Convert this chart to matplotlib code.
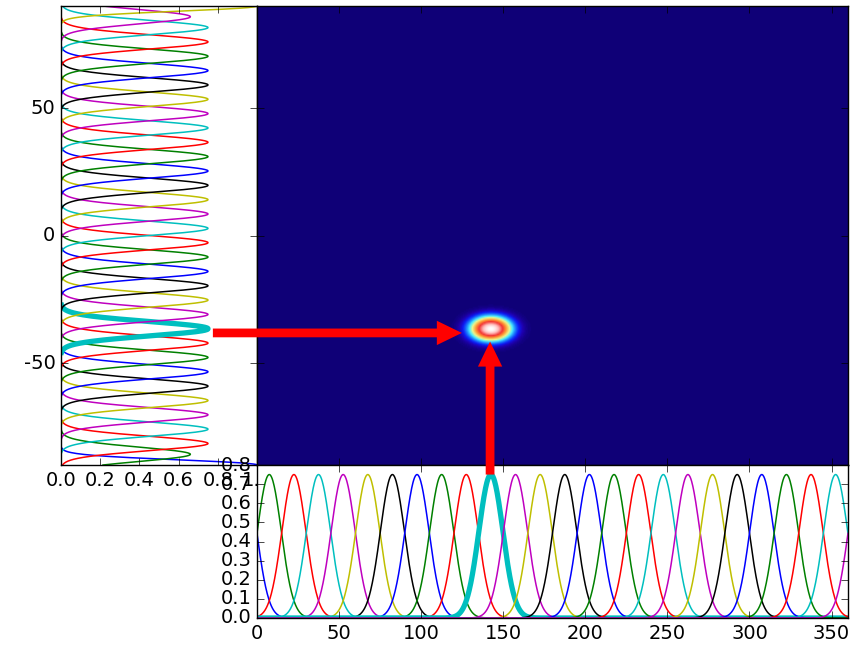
import numpy as np
import matplotlib
matplotlib.use("Agg")
import matplotlib.pyplot as plt
from matplotlib.colors import LinearSegmentedColormap
from matplotlib.patches import ConnectionPatch

plt.style.use("classic")
plt.rcParams["font.size"] = 14
plt.rcParams["xtick.labelsize"] = 14
plt.rcParams["ytick.labelsize"] = 14
plt.rcParams["xtick.major.size"] = 5
plt.rcParams["ytick.major.size"] = 5
plt.rcParams["axes.unicode_minus"] = False

# longitude tuning curves (bottom panel), one every 15 deg
lon_centers = [-7.5, 7.5, 22.5, 37.5, 52.5, 67.5, 82.5, 97.5, 112.5, 127.5,
               142.5, 157.5, 172.5, 187.5, 202.5, 217.5, 232.5, 247.5, 262.5,
               277.5, 292.5, 307.5, 322.5, 337.5, 352.5, 367.5]
lon_peak = 0.75
lon_width = 7.3

# latitude tuning curves (left panel), one every 5.625 deg, edges special
lat_centers = [-90.0, -85.8, -81.56, -75.94, -70.31, -64.69, -59.06, -53.44,
               -47.81, -42.19, -36.56, -30.94, -25.31, -19.69, -14.06, -8.44,
               -2.81, 2.81, 8.44, 14.06, 19.69, 25.31, 30.94, 36.56, 42.19,
               47.81, 53.44, 59.06, 64.69, 70.31, 75.94, 81.56, 85.8, 90.0]
lat_peaks = [1.0, 0.66] + [0.75] * 30 + [0.66, 1.0]
lat_widths = [2.0] + [2.8] * 32 + [2.0]

# the neuron picked out in each panel
sel_lon = 10
sel_lat = 10

colors = ["b", "g", "r", "c", "m", "y", "k"]

lon = np.linspace(0, 360, 1441)
lat = np.linspace(-90, 90, 1441)


def tuning(x, c, a, w):
    return a * np.exp(-(x - c) ** 2 / (2.0 * w ** 2))


fig = plt.figure(figsize=(8.58, 6.48), dpi=100)
fig.patch.set_facecolor("white")
ax_left = fig.add_axes([0.0711, 0.2824, 0.2284, 0.7083])
ax_main = fig.add_axes([0.2995, 0.2824, 0.6888, 0.7083])
ax_bot = fig.add_axes([0.2995, 0.0463, 0.6888, 0.2361])

# left panel: latitude curves
for i in range(len(lat_centers)):
    v = tuning(lat, lat_centers[i], lat_peaks[i], lat_widths[i])
    v[v < 0.003] = np.nan
    lw = 3.8 if i == sel_lat else 1.1
    ax_left.plot(v, lat, color=colors[i % 7], lw=lw)
ax_left.set_xlim(0, 1)
ax_left.set_ylim(-90, 90)
ax_left.set_xticks([0.0, 0.2, 0.4, 0.6, 0.8, 1.0])
ax_left.set_xticklabels(["0.0", "0.2", "0.4", "0.6", "0.8", "1.0"])
ax_left.set_yticks([-50, 0, 50])

# bottom panel: longitude curves
for i in range(len(lon_centers)):
    v = tuning(lon, lon_centers[i], lon_peak, lon_width)
    lw = 3.8 if i == sel_lon else 1.1
    ax_bot.plot(lon, v, color=colors[i % 7], lw=lw)
ax_bot.set_xlim(0, 360)
ax_bot.set_ylim(0, 0.8)
ax_bot.set_xticks(np.arange(0, 351, 50))
ax_bot.set_yticks(np.arange(0, 0.81, 0.1))
ax_bot.set_yticklabels(["%.1f" % t for t in np.arange(0, 0.81, 0.1)])

# main panel: joint response of the two picked neurons
gx = np.arange(0.25, 360, 0.5)
gy = np.arange(-89.75, 90, 0.5)
blob = np.outer(tuning(gy, lat_centers[sel_lat], lat_peaks[sel_lat], lat_widths[sel_lat]),
                tuning(gx, lon_centers[sel_lon], lon_peak, lon_width))
cmap = LinearSegmentedColormap.from_list("blob", [
    (0.0, (0.06, 0.0, 0.47)),
    (0.025, (0.12, 0.0, 0.68)),
    (0.06, (0.05, 0.1, 0.95)),
    (0.12, (0.1, 0.5, 1.0)),
    (0.2, (0.3, 0.93, 1.0)),
    (0.3, (0.93, 0.97, 0.55)),
    (0.45, (1.0, 0.6, 0.2)),
    (0.62, (0.95, 0.2, 0.2)),
    (0.82, (1.0, 0.72, 0.72)),
    (1.0, (1.0, 1.0, 1.0))])
ax_main.imshow(blob, cmap=cmap, origin="lower", extent=[0, 360, -90, 90],
               aspect="auto", interpolation="bilinear", vmin=0, vmax=blob.max())
ax_main.set_xlim(0, 360)
ax_main.set_ylim(-90, 90)
ax_main.set_xticks(np.arange(0, 351, 50))
ax_main.set_yticks([-50, 0, 50])
ax_main.set_xticklabels([])
ax_main.set_yticklabels([])

# red arrows from the picked curves into the map
style = "simple,head_length=18,head_width=17.5,tail_width=6.3"
arr1 = ConnectionPatch((0.775, -38.2), (124.8, -38.2), "data", "data",
                       axesA=ax_left, axesB=ax_main, arrowstyle=style,
                       mutation_scale=1, shrinkA=0, shrinkB=0,
                       fc="red", ec="red", lw=0)
arr2 = ConnectionPatch((142.0, 0.75), (142.0, -41.6), "data", "data",
                       axesA=ax_bot, axesB=ax_main, arrowstyle=style,
                       mutation_scale=1, shrinkA=0, shrinkB=0,
                       fc="red", ec="red", lw=0)
fig.add_artist(arr1)
fig.add_artist(arr2)

fig.savefig("out.png", dpi=100)
